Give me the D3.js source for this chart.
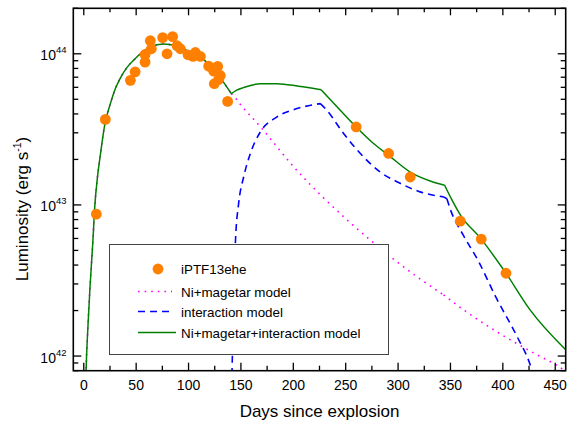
<!DOCTYPE html>
<html>
<head>
<meta charset="utf-8">
<script src="https://cdn.jsdelivr.net/npm/d3@7"></script>
<style>
  body { margin: 0; background: #fff; }
  text { font-family: "Liberation Sans", Arial, sans-serif; fill: #000; }
</style>
</head>
<body>
<div id="chart"></div>
<script>
// observed light curve of iPTF13ehe
var obsDays = [12, 20.6, 44.5, 49, 58.5, 58.5, 63.5, 64.5, 75.3, 79.5, 84.8, 89, 92.2, 99.5, 104.3, 106.5, 111.3,
    119.2, 124, 124.6, 127.8, 128.7, 130.3, 137.3, 260, 291, 311.6, 359.4, 379.4, 403];
var obsLum = [8.7e42, 3.68e43, 6.67e43, 7.6e43, 8.8e43, 9.9e43, 1.22e44, 1.08e44, 1.28e44, 1.0e44, 1.30e44, 1.13e44, 1.08e44, 9.85e43, 9.6e43, 1.02e44, 9.6e43,
    8.28e43, 7.67e43, 6.34e43, 8.25e43, 6.76e43, 7.19e43, 4.84e43, 3.28e43, 2.19e43, 1.53e43, 7.82e42, 5.94e42, 3.53e42];

// Ni+magetar model
var magDays = [1.5, 2.2, 4, 5.9, 8.6, 10.6, 13, 15.8, 20, 25.4, 30.2, 35, 41.3, 48, 54, 63.5, 76.3, 87.4, 98.6, 111.3, 124, 133.5, 140.8,
    144.7, 151, 163.7, 170, 200.3, 254.4, 276.6, 299, 318, 343.4, 364, 392.7, 429.3, 451.6, 465];
var magLum = [5e41, 8e41, 1.58e42, 2.82e42, 5.62e42, 1e43, 1.51e43, 2.14e43, 3.39e43, 4.68e43, 5.89e43, 6.92e43, 8.13e43, 9.12e43, 1.0e44, 1.11e44, 1.16e44, 1.13e44, 1.05e44, 9.5e43, 7.94e43, 6.47e43, 5.45e43,
    5.1e43, 4.49e43, 3.59e43, 3.2e43, 1.79e43, 7.62e42, 5.62e42, 4.2e42, 3.35e42, 2.54e42, 1.99e42, 1.47e42, 1.05e42, 8.67e41, 7.5e41];

// interaction model
var intDays = [140, 142.5, 144.7, 147.8, 152.6, 159, 168.5, 184.4, 203.5, 225.8, 232, 248, 264, 283, 302, 321, 343.4, 346.6,
    350, 361.7, 376.5, 393, 413.5, 425.5, 432];
var intLum = [3e41, 1.5e42, 5.6e42, 1.02e43, 1.53e43, 2.19e43, 3.04e43, 3.82e43, 4.34e43, 4.68e43, 4.23e43, 2.97e43, 2.19e43, 1.65e43, 1.39e43, 1.22e43, 1.13e43, 1.1e43,
    9.3e42, 6.4e42, 4.27e42, 2.48e42, 1.35e42, 9e41, 6.5e41];

// Ni+magetar+interaction model
var totDays = [1.5, 2.2, 4, 5.9, 8.6, 10.6, 13, 15.8, 20, 25.4, 30.2, 35, 41.3, 48, 54, 63.5, 76.3, 87.4, 98.6, 111.3, 124, 133.5, 140.8,
    146, 152.6, 160, 168.5, 184.4, 205, 226.5, 244.8, 260, 276.6, 291, 311.6, 330.7, 344.4, 351.4, 359.4, 379.4, 403, 426, 460];
var totLum = [5e41, 8e41, 1.58e42, 2.82e42, 5.62e42, 1e43, 1.51e43, 2.14e43, 3.39e43, 4.68e43, 5.89e43, 6.92e43, 8.13e43, 9.12e43, 1.0e44, 1.11e44, 1.16e44, 1.13e44, 1.05e44, 9.5e43, 7.94e43, 6.47e43, 5.45e43,
    5.75e43, 5.97e43, 6.2e43, 6.34e43, 6.34e43, 6.1e43, 5.79e43, 4.23e43, 3.28e43, 2.55e43, 2.13e43, 1.65e43, 1.44e43, 1.35e43, 1.08e43, 8.6e42, 5.94e42, 3.53e42, 2.02e42, 1.1e42];

// days where the model curves have a sharp corner
var kinkDays = [140.8, 225.8, 226.5, 343.4, 344.4, 346.6];

var xTicks = [0, 50, 100, 150, 200, 250, 300, 350, 400, 450];
var yTicks = [1e42, 1e43, 1e44];
var legendLabels = ["iPTF13ehe", "Ni+magetar model", "interaction model", "Ni+magetar+interaction model"];

var width = 586, height = 421;
var margin = {top: 8.3, right: 20.3, bottom: 50.3, left: 73.3};

var svg = d3.select("#chart")
    .append("svg")
    .attr("width", width)
    .attr("height", height);

var x = d3.scaleLinear().domain([-10, 460]).range([margin.left, width - margin.right]);
var y = d3.scaleLog().domain([8e41, 2e44]).range([height - margin.bottom, margin.top]);

//clip curves to the frame
svg.append("defs").append("clipPath")
    .attr("id", "plotClip")
    .append("rect")
    .attr("x", margin.left)
    .attr("y", margin.top)
    .attr("width", width - margin.left - margin.right)
    .attr("height", height - margin.top - margin.bottom);

var plot = svg.append("g").attr("clip-path", "url(#plotClip)");

function zipped(days, lum) {
    return days.map(function(d, i) { return [d, lum[i]]; });
}

var smooth = d3.line()
    .x(function(d) { return x(d[0]); })
    .y(function(d) { return y(d[1]); })
    .curve(d3.curveMonotoneX);

//smooth between corners, keep corners sharp
function curvePath(days, lum) {
    var pts = zipped(days, lum);
    var pieces = [[]];
    pts.forEach(function(p) {
        pieces[pieces.length - 1].push(p);
        if (kinkDays.indexOf(p[0]) >= 0) pieces.push([p]);
    });
    return pieces.filter(function(s) { return s.length > 1; })
        .map(function(s) { return smooth(s); }).join("");
}

plot.append("path")
    .attr("d", curvePath(magDays, magLum))
    .attr("fill", "none")
    .attr("stroke", "#ff00ff")
    .attr("stroke-width", 1.6)
    .attr("stroke-dasharray", "1.6,5");

plot.append("path")
    .attr("d", curvePath(intDays, intLum))
    .attr("fill", "none")
    .attr("stroke", "#0000ff")
    .attr("stroke-width", 1.6)
    .attr("stroke-dasharray", "7,5");

plot.append("path")
    .attr("d", curvePath(totDays, totLum))
    .attr("fill", "none")
    .attr("stroke", "#008000")
    .attr("stroke-width", 1.5);

plot.selectAll("circle.obs")
    .data(zipped(obsDays, obsLum))
    .enter()
    .append("circle")
    .attr("class", "obs")
    .attr("cx", function(d) { return x(d[0]); })
    .attr("cy", function(d) { return y(d[1]); })
    .attr("r", 5.4)
    .attr("fill", "#ff8000");

//legend box, white fill hides curves under it
var legend = svg.append("g");
legend.append("rect")
    .attr("x", 109.5)
    .attr("y", 244.5)
    .attr("width", 279)
    .attr("height", 110)
    .attr("fill", "#fff")
    .attr("stroke", "#444")
    .attr("stroke-width", 1);

var rowY = [269, 291.5, 311.5, 332.5];
legend.append("circle")
    .attr("cx", 158).attr("cy", rowY[0]).attr("r", 5.4).attr("fill", "#ff8000");
legend.append("line")
    .attr("x1", 138).attr("x2", 172).attr("y1", rowY[1]).attr("y2", rowY[1])
    .attr("stroke", "#ff00ff").attr("stroke-width", 1.6).attr("stroke-dasharray", "1.6,5");
legend.append("line")
    .attr("x1", 138).attr("x2", 172).attr("y1", rowY[2]).attr("y2", rowY[2])
    .attr("stroke", "#0000ff").attr("stroke-width", 1.6).attr("stroke-dasharray", "7,5");
legend.append("line")
    .attr("x1", 138).attr("x2", 176).attr("y1", rowY[3]).attr("y2", rowY[3])
    .attr("stroke", "#008000").attr("stroke-width", 1.5);

legend.selectAll("text")
    .data(legendLabels)
    .enter()
    .append("text")
    .attr("x", 181)
    .attr("y", function(d, i) { return rowY[i] + 5; })
    .attr("font-size", 13.4)
    .text(function(d) { return d; });

//ticks, all pointing inward
var x0 = margin.left, x1 = width - margin.right, y0 = height - margin.bottom, y1 = margin.top;
var tickG = svg.append("g").attr("stroke", "#000").attr("stroke-width", 1.3);
var xMinor = d3.range(0, 460, 25);
xMinor.forEach(function(v) {
    var major = v % 50 === 0;
    var len = major ? 8 : 5;
    tickG.append("line").attr("x1", x(v)).attr("x2", x(v)).attr("y1", y0).attr("y2", y0 - len);
    tickG.append("line").attr("x1", x(v)).attr("x2", x(v)).attr("y1", y1).attr("y2", y1 + (major ? 7 : 4));
});

var yMinor = [];
[1e41, 1e42, 1e43, 1e44].forEach(function(dec) {
    for (var k = 1; k <= 9; k++) {
        var v = dec * k;
        if (v >= 8e41 && v <= 2e44) yMinor.push(v);
    }
});
yMinor.forEach(function(v) {
    var major = yTicks.indexOf(v) >= 0;
    var len = major ? 8 : 5;
    tickG.append("line").attr("x1", x0).attr("x2", x0 + len).attr("y1", y(v)).attr("y2", y(v));
    tickG.append("line").attr("x1", x1).attr("x2", x1 - len).attr("y1", y(v)).attr("y2", y(v));
});

//frame
svg.append("rect")
    .attr("x", x0).attr("y", y1)
    .attr("width", x1 - x0).attr("height", y0 - y1)
    .attr("fill", "none")
    .attr("stroke", "#000")
    .attr("stroke-width", 1.6);

//tick labels
svg.append("g").selectAll("text")
    .data(xTicks)
    .enter()
    .append("text")
    .attr("x", function(d) { return x(d); })
    .attr("y", 390)
    .attr("text-anchor", "middle")
    .attr("font-size", 14)
    .text(function(d) { return d; });

var yLab = svg.append("g").selectAll("text")
    .data(yTicks)
    .enter()
    .append("text")
    .attr("x", 66.5)
    .attr("y", function(d) { return y(d) + 6.5; })
    .attr("text-anchor", "end")
    .attr("font-size", 14);
yLab.append("tspan").text("10");
yLab.append("tspan")
    .attr("dy", -7)
    .attr("font-size", 9.5)
    .text(function(d) { return Math.round(Math.log10(d)); });

//axis titles
svg.append("text")
    .attr("x", (x0 + x1) / 2)
    .attr("y", 417)
    .attr("text-anchor", "middle")
    .attr("font-size", 17)
    .text("Days since explosion");

var yTitle = svg.append("text")
    .attr("transform", "translate(28," + 209 + ") rotate(-90)")
    .attr("text-anchor", "middle")
    .attr("font-size", 17);
yTitle.append("tspan").text("Luminosity (erg s");
yTitle.append("tspan").attr("dy", -7).attr("font-size", 10.5).text("-1");
yTitle.append("tspan").attr("dy", 7).text(")");
</script>
</body>
</html>
